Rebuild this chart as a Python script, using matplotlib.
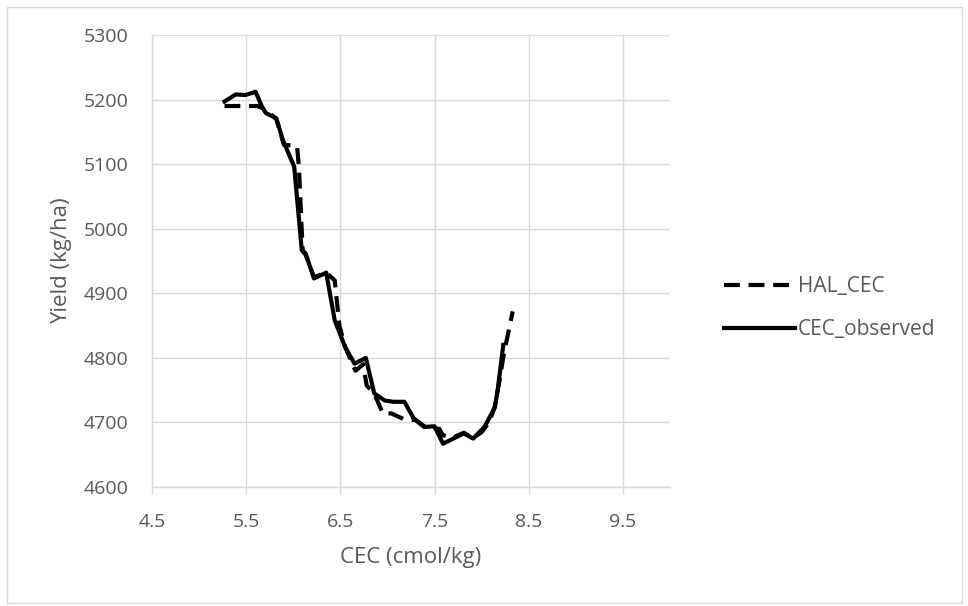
import numpy as np
import matplotlib.pyplot as plt
from matplotlib.patches import Rectangle

# data
cec_obs = [5.27, 5.39, 5.49, 5.60, 5.67, 5.71, 5.82, 5.89, 6.01, 6.09, 6.13,
           6.22, 6.35, 6.44, 6.55, 6.65, 6.77, 6.86, 6.97, 7.06, 7.18, 7.28,
           7.39, 7.50, 7.59, 7.70, 7.81, 7.91, 8.03, 8.14, 8.17, 8.23]
yield_obs = [5197, 5208, 5207, 5212, 5188, 5179, 5171, 5137, 5096, 4967, 4962,
             4923, 4932, 4858, 4817, 4791, 4800, 4745, 4734, 4732, 4732, 4706,
             4693, 4694, 4667, 4675, 4683, 4675, 4693, 4723, 4750, 4820]

cec_hal = [5.27, 5.62, 5.70, 5.82, 5.90, 6.04, 6.06, 6.10, 6.13, 6.22, 6.35,
           6.44, 6.49, 6.55, 6.66, 6.74, 6.78, 6.86, 6.95, 7.04, 7.19, 7.30,
           7.40, 7.55, 7.59, 7.70, 7.81, 7.91, 8.00, 8.08, 8.14, 8.19, 8.24,
           8.27, 8.33]
yield_hal = [5190, 5190, 5185, 5170, 5130, 5128, 5095, 4965, 4960, 4925, 4932,
             4920, 4850, 4817, 4780, 4790, 4757, 4745, 4714, 4714, 4704, 4704,
             4693, 4690, 4680, 4677, 4684, 4676, 4685, 4700, 4725, 4765, 4810,
             4830, 4872]

x_ticks = [4.5, 5.5, 6.5, 7.5, 8.5, 9.5]
y_ticks = [4600, 4700, 4800, 4900, 5000, 5100, 5200, 5300]

plt.rcParams['font.family'] = ['Open Sans', 'DejaVu Sans']
txt = '#595959'
grid = '#d9d9d9'

W, H = 968, 606
fig = plt.figure(figsize=(W / 100, H / 100), dpi=100)
ax = fig.add_axes([152/W, 1 - 487/H, (670 - 152)/W, (487 - 35)/H])

ax.plot(cec_hal, yield_hal, color='black', linewidth=3.0,
        dashes=(3.8, 2.1), label='HAL_CEC')
ax.plot(cec_obs, yield_obs, color='black', linewidth=3.0,
        label='CEC_observed')

ax.set_xlim(4.5, 10.0)
ax.set_ylim(4600, 5300)
ax.set_xticks(x_ticks)
ax.set_yticks(y_ticks)
ax.set_xticklabels([str(v) for v in x_ticks])
ax.grid(True, color=grid, linewidth=1.0)
ax.set_axisbelow(True)
for s in ['top', 'right']:
    ax.spines[s].set_visible(False)
for s in ['left', 'bottom']:
    ax.spines[s].set_color(grid)
    ax.spines[s].set_linewidth(1.0)
ax.tick_params(axis='x', colors=grid, length=5, width=1.0, labelcolor=txt,
               labelsize=14, pad=14)
ax.tick_params(axis='y', length=0, labelcolor=txt, labelsize=14, pad=17)

ax.set_xlabel('CEC (cmol/kg)', color=txt, fontsize=16, labelpad=11)
ax.set_ylabel('Yield (kg/ha)', color=txt, fontsize=16, labelpad=8)

fs = 15
leg = fig.legend(*ax.get_legend_handles_labels(), loc='center left',
                 bbox_to_anchor=((723 - 18) / W, 1 - 308 / H),
                 frameon=False, fontsize=fs, handlelength=3.4,
                 handletextpad=0.15, labelspacing=1.05, labelcolor=txt)

# chart border
fig.patches.append(Rectangle((7/W, 3/H), 955/W, 596/H,
                             transform=fig.transFigure, fill=False,
                             edgecolor=grid, linewidth=1.0))

fig.savefig('out.png', dpi=100)
